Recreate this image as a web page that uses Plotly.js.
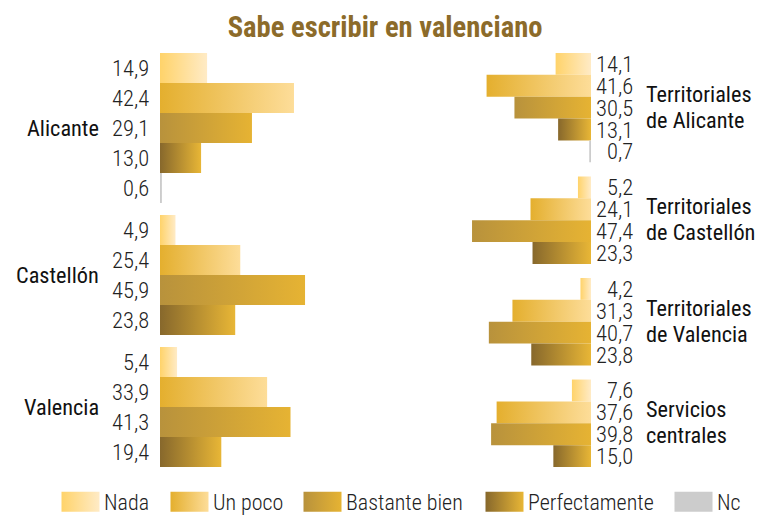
<!DOCTYPE html>
<html><head><meta charset="utf-8">
<script src="https://cdn.plot.ly/plotly-3.0.1.min.js"></script>
<style>
html,body{margin:0;padding:0;background:#fff;}
#chart{width:758px;height:516px;}
.main-svg text{font-stretch:condensed;}
</style></head>
<body>
<svg width="0" height="0" style="position:absolute;left:0;top:0">
<defs>
<linearGradient id="gNada" x1="0" y1="0" x2="1" y2="0"><stop offset="0" stop-color="#FFD36A"/><stop offset="1" stop-color="#FFEBC6"/></linearGradient>
<linearGradient id="gUnpoco" x1="0" y1="0" x2="1" y2="0"><stop offset="0" stop-color="#E4AF2E"/><stop offset="1" stop-color="#FDDD99"/></linearGradient>
<linearGradient id="gBastante" x1="0" y1="0" x2="1" y2="0"><stop offset="0" stop-color="#B8923C"/><stop offset="1" stop-color="#E6B333"/></linearGradient>
<linearGradient id="gPerf" x1="0" y1="0" x2="1" y2="0"><stop offset="0" stop-color="#87682C"/><stop offset="1" stop-color="#E8B636"/></linearGradient>
<linearGradient id="gNc" x1="0" y1="0" x2="1" y2="0"><stop offset="0" stop-color="#CCCCCC"/><stop offset="1" stop-color="#CCCCCC"/></linearGradient>
</defs></svg>
<div id="chart"></div>
<script>
// ---- data ----
const levels = ['Nada', 'Un poco', 'Bastante bien', 'Perfectamente', 'Nc'];
const levelColors = ['#FFDE8F', '#F0C563', '#CFA236', '#B68B31', '#CCCCCC'];
const levelGradients = ['gNada', 'gUnpoco', 'gBastante', 'gPerf', 'gNc'];

const leftGroups = ['Alicante', 'Castellón', 'Valencia'];
const alicante = [14.9, 42.4, 29.1, 13.0, 0.6];
const castellon = [4.9, 25.4, 45.9, 23.8];
const valencia = [5.4, 33.9, 41.3, 19.4];

const rightGroups = [['Territoriales', 'de Alicante'], ['Territoriales', 'de Castellón'], ['Territoriales', 'de Valencia'], ['Servicios', 'centrales']];
const terAlicante = [14.1, 41.6, 30.5, 13.1, 0.7];
const terCastellon = [5.2, 24.1, 47.4, 23.3];
const terValencia = [4.2, 31.3, 40.7, 23.8];
const serviciosCentrales = [7.6, 37.6, 39.8, 15.0];

const titleText = 'Sabe escribir en valenciano';

// ---- layout helpers ----
const W = 758, H = 516;
const FONT = '"Roboto Condensed", Roboto, sans-serif';
const fmt = v => v.toFixed(1).replace('.', ',');

function layoutRows(groups, gap) {
  let pos = 0; const rows = []; const centers = [];
  groups.forEach((vals, gi) => {
    if (gi > 0) pos += gap;
    const start = pos;
    vals.forEach((v, li) => { rows.push({gi, li, v, y: pos + 0.5}); pos += 1; });
    centers.push((start + pos) / 2);
  });
  return {rows, centers, total: pos};
}

const L = layoutRows([alicante, castellon, valencia], 0.4);
const R = layoutRows([terAlicante, terCastellon, terValencia, serviciosCentrales], 0.644);

const plotTop = 53, plotBot = 467;
const yDomain = [(H - plotBot) / H, (H - plotTop) / H];
const leftZero = 160, leftPxPerUnit = 3.16, leftMax = 50;
const rightZero = 591, rightPxPerUnit = 2.51, rightMax = 50;

// legend entry origins (px) for the five separate legends
const legendOrigins = [61, 170, 303, 485, 674];
const legendIds = ['legend', 'legend2', 'legend3', 'legend4', 'legend5'];

const traces = [];
levels.forEach((lev, li) => {
  const lr = L.rows.filter(r => r.li === li);
  traces.push({
    type: 'bar', orientation: 'h', name: lev, meta: levelGradients[li],
    x: lr.map(r => r.v), y: lr.map(r => r.y), width: 1,
    xaxis: 'x', yaxis: 'y', legend: legendIds[li],
    marker: {color: levelColors[li], line: {width: 0}},
    showlegend: true, hoverinfo: 'skip'
  });
});
levels.forEach((lev, li) => {
  const rr = R.rows.filter(r => r.li === li);
  traces.push({
    type: 'bar', orientation: 'h', name: lev, meta: levelGradients[li],
    x: rr.map(r => r.v), y: rr.map(r => r.y), width: 1,
    xaxis: 'x2', yaxis: 'y2',
    marker: {color: levelColors[li], line: {width: 0}},
    showlegend: false, hoverinfo: 'skip'
  });
});

const valFont = {family: FONT, size: 22.5, color: '#222', weight: 300};
const grpFont = {family: FONT, size: 22.3, color: '#111', weight: 400};
const annotations = [];
L.rows.forEach(r => annotations.push({
  xref: 'x', yref: 'y', x: 0, y: r.y, xanchor: 'right', yanchor: 'middle',
  xshift: -9, text: fmt(r.v), showarrow: false, font: valFont
}));
R.rows.forEach(r => annotations.push({
  xref: 'x2', yref: 'y2', x: 0, y: r.y, xanchor: 'right', yanchor: 'middle',
  xshift: 44, text: fmt(r.v), showarrow: false, font: valFont
}));
leftGroups.forEach((g, gi) => annotations.push({
  xref: 'paper', yref: 'y', x: 101 / W, y: L.centers[gi], xanchor: 'right', yanchor: 'middle',
  text: g, showarrow: false, font: grpFont
}));
rightGroups.forEach((lines, gi) => lines.forEach((t, k) => annotations.push({
  xref: 'paper', yref: 'y2', x: 644 / W, y: R.centers[gi], xanchor: 'left', yanchor: 'middle',
  yshift: (k === 0 ? 1 : -1) * 12.9 + 1, align: 'left', text: t, showarrow: false, font: grpFont
})));

const hidden = {visible: false, showgrid: false, zeroline: false, fixedrange: true};
const layout = {
  width: W, height: H, margin: {l: 0, r: 0, t: 0, b: 0, autoexpand: false},
  paper_bgcolor: '#fff', plot_bgcolor: 'rgba(0,0,0,0)',
  barmode: 'overlay',
  title: {text: titleText, x: 0.508, xanchor: 'center', y: 1 - 27 / H, yref: 'container', yanchor: 'middle',
          font: {family: FONT, size: 28.6, weight: 700, color: '#8C6B2A'}},
  xaxis: Object.assign({}, hidden, {range: [0, leftMax], domain: [leftZero / W, (leftZero + leftMax * leftPxPerUnit) / W], anchor: 'y'}),
  yaxis: Object.assign({}, hidden, {range: [L.total, 0], domain: yDomain, anchor: 'x'}),
  xaxis2: Object.assign({}, hidden, {range: [rightMax, 0], domain: [(rightZero - rightMax * rightPxPerUnit) / W, rightZero / W], anchor: 'y2'}),
  yaxis2: Object.assign({}, hidden, {range: [R.total, 0], domain: yDomain, anchor: 'x2'}),
  showlegend: true,
  annotations: annotations
};
legendIds.forEach((id, i) => {
  layout[id] = {orientation: 'h', x: legendOrigins[i] / W, xanchor: 'left', y: (H - 502) / H, yanchor: 'middle',
    itemwidth: 33,
    font: {family: FONT, size: 22, color: '#222', weight: 300}, itemclick: false, itemdoubleclick: false,
    bgcolor: 'rgba(0,0,0,0)', borderwidth: 0};
});

Plotly.newPlot('chart', traces, layout, {staticPlot: true, displayModeBar: false}).then(gd => {
  gd.querySelectorAll('.barlayer .trace').forEach(el => {
    const cd = el.__data__; const tr = cd && cd[0] && cd[0].trace;
    if (!tr || !tr.meta) return;
    el.querySelectorAll('path').forEach(p => { p.style.fill = 'url(#' + tr.meta + ')'; });
  });
  gd.querySelectorAll('g.traces').forEach(el => {
    const d = el.__data__; const tr = d && d[0] && d[0].trace;
    if (!tr || !tr.meta) return;
    el.querySelectorAll('.legendpoints path').forEach(p => {
      p.setAttribute('d', 'M17,10H-21V-10H17Z');
      p.style.fill = 'url(#' + tr.meta + ')';
    });
  });
});
</script>
</body></html>
